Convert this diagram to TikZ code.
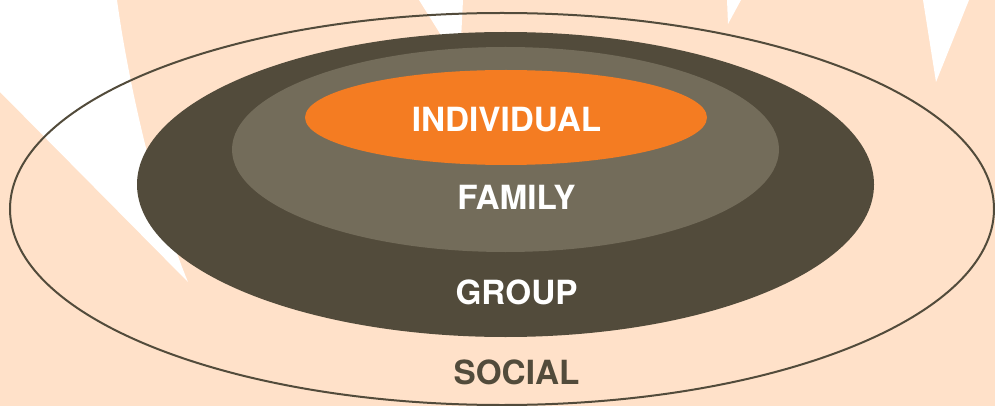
\documentclass[tikz,border=0pt]{standalone}
\usepackage{fontspec}
\newfontfamily\ringfont{TeX Gyre Heros}
\usetikzlibrary{positioning}

\definecolor{peach}{HTML}{FFE1C9}
\definecolor{darkring}{HTML}{524B3B}
\definecolor{midring}{HTML}{736C5A}
\definecolor{coreorange}{HTML}{F47C22}

\tikzset{
	ringlabel/.style={font=\ringfont\bfseries\fontsize{33.3}{36}\selectfont, text=white, inner sep=0pt},
	outerlabel/.style={ringlabel, text=darkring}
}

\begin{document}
\begin{tikzpicture}[x=1pt, y=-1pt]

\fill[peach] (0,0) rectangle (995,406);
\useasboundingbox (0,0) rectangle (995,406);

% white gaps in the background
\fill[white] (0,0) -- (117,0) .. controls (130,95) and (160,215) .. (188,282) -- (0,92) -- cycle;
\fill[white] (419,0) -- (463,0) -- (461,40) -- (444,40) -- cycle;
\fill[white] (727,0) -- (741,0) -- (728,24) -- cycle;
\fill[white] (923,0) -- (969,0) -- (936,82) -- cycle;

% rings
\draw[darkring, line width=2pt] (502,209) ellipse [x radius=492, y radius=196];
\fill[darkring] (505.5,184.5) ellipse [x radius=368.5, y radius=152.5];
\fill[midring] (505.5,149.5) ellipse [x radius=273.5, y radius=102.5];
\fill[coreorange] (506,117.5) ellipse [x radius=201, y radius=47.5];

\node[ringlabel] (individual) at (506.5,120) {INDIVIDUAL};
\node[ringlabel] (family) at (516.5,197.5) {FAMILY};
\node[ringlabel] (group) at (516.5,292.5) {GROUP};
\node[outerlabel] (social) at (516.5,372.5) {SOCIAL};

\end{tikzpicture}
\end{document}
